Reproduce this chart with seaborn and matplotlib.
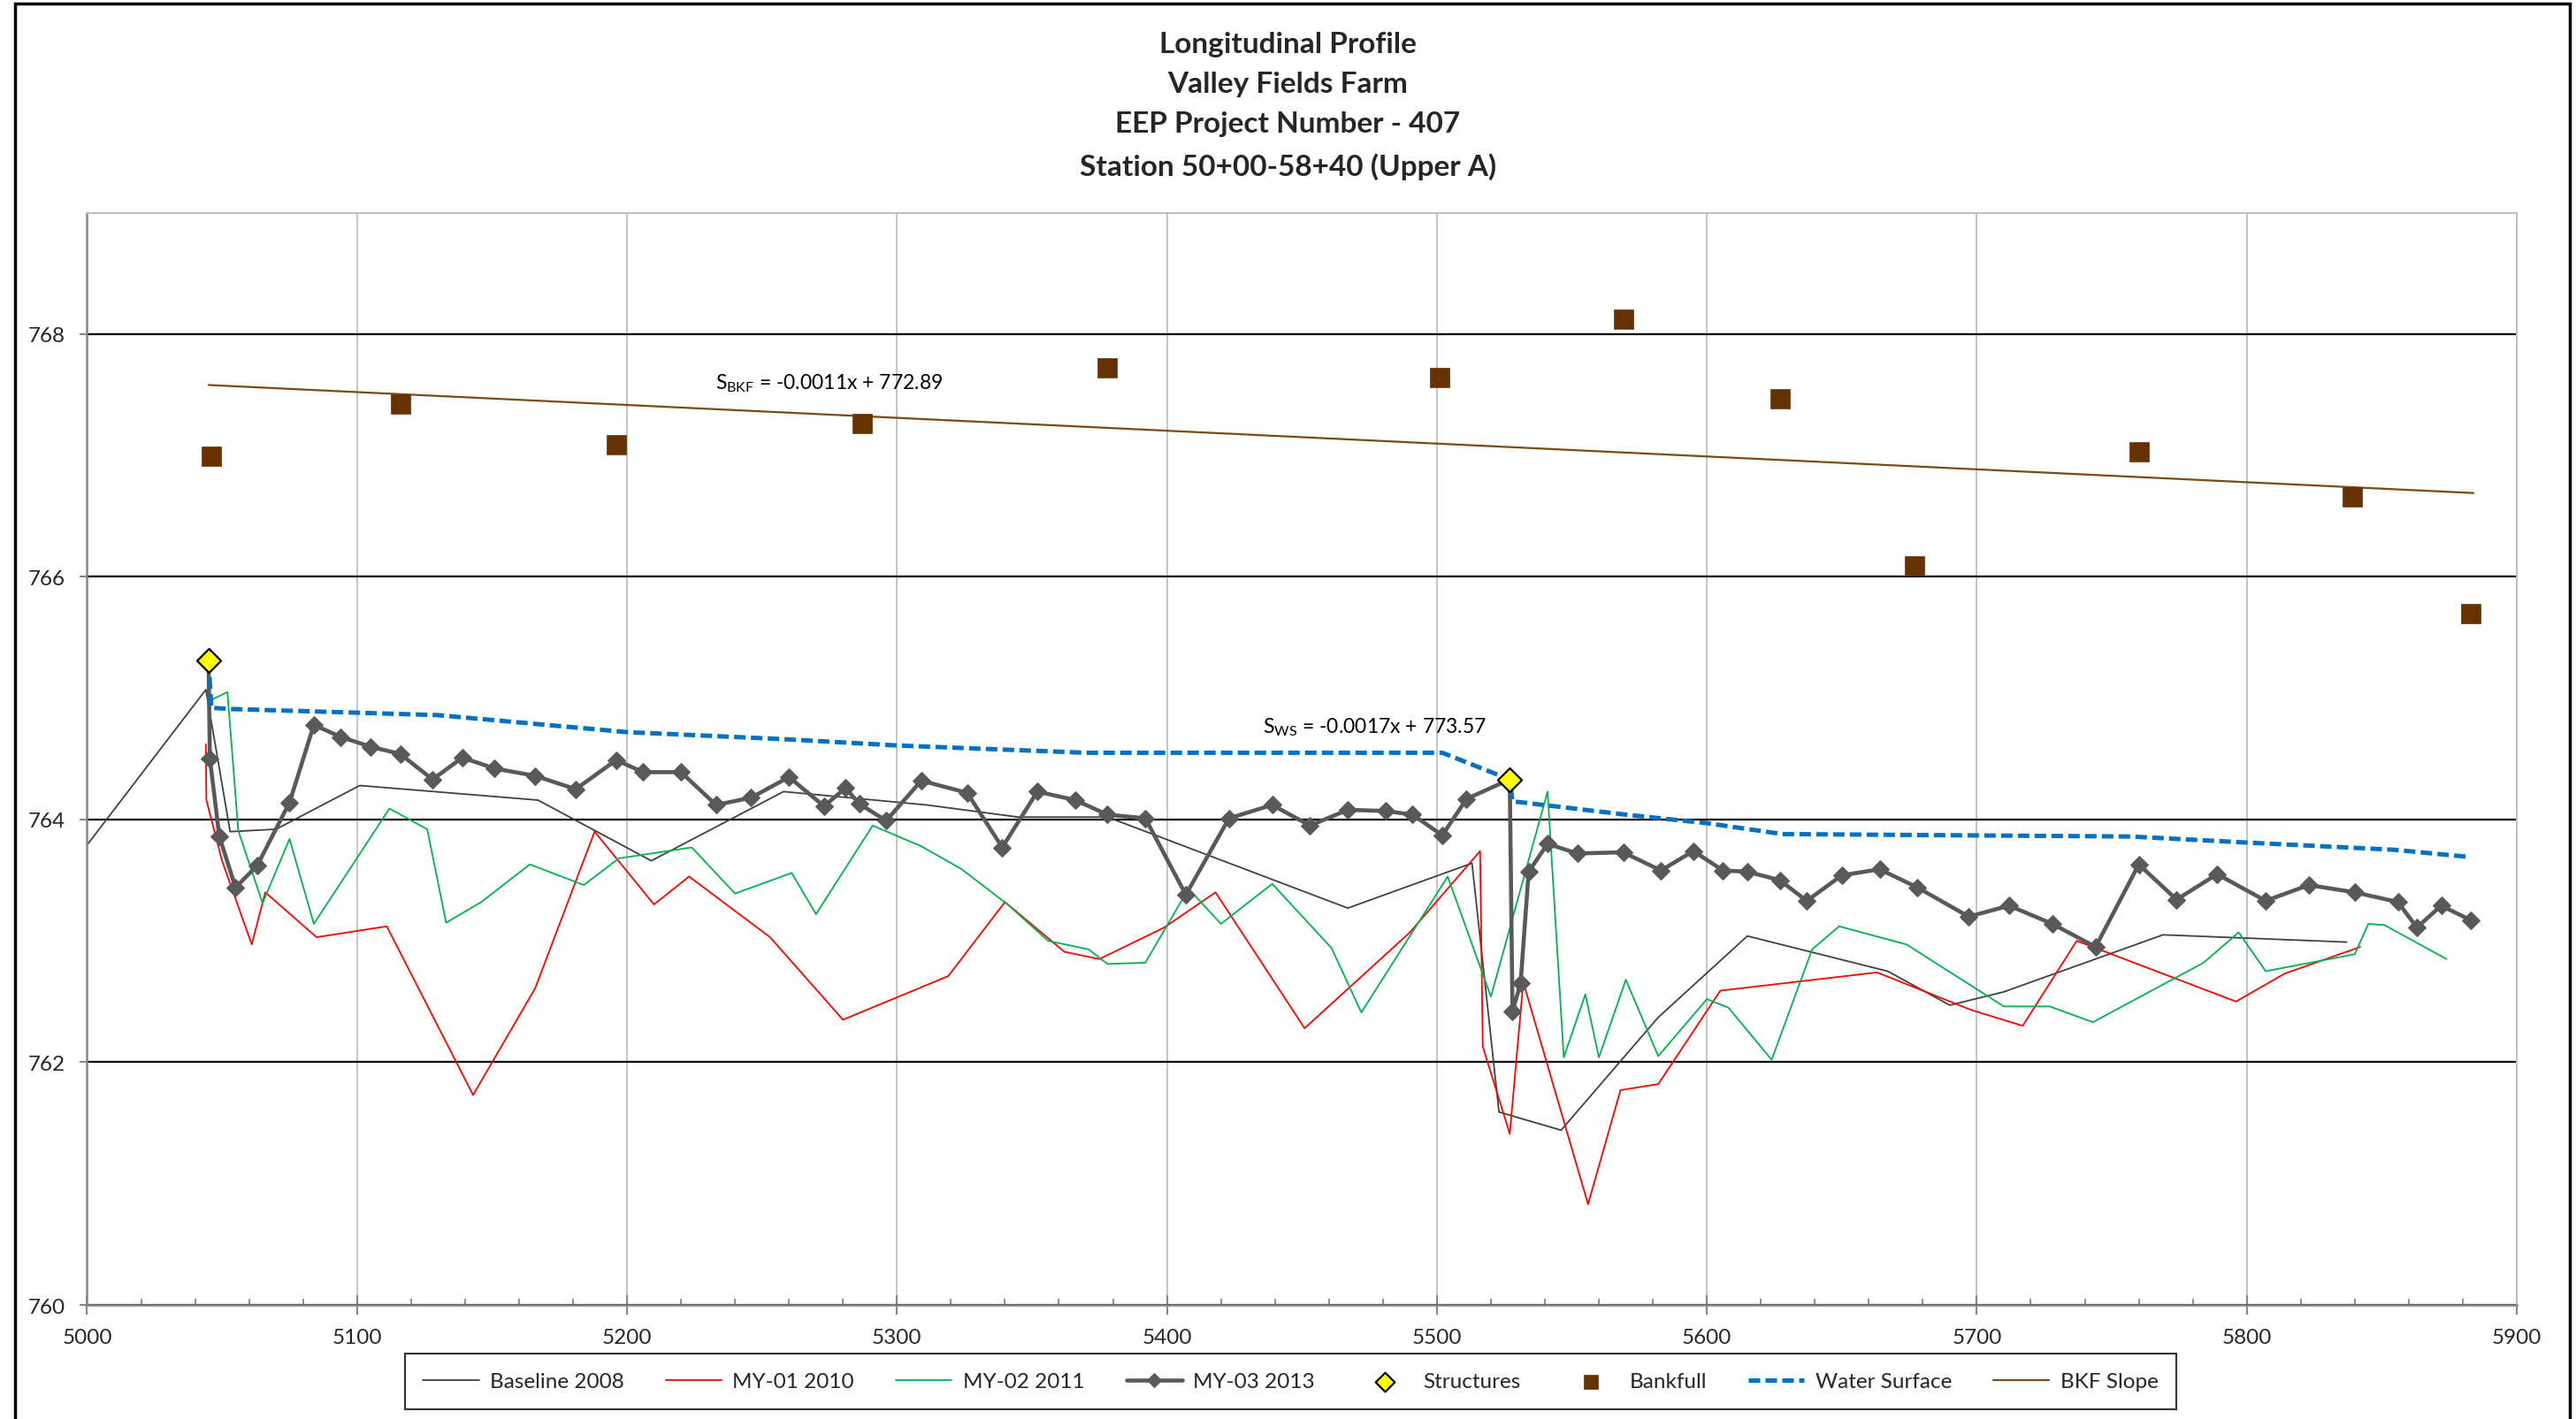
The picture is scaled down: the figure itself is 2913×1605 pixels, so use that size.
import matplotlib
matplotlib.use('Agg')
import matplotlib.pyplot as plt
from matplotlib.patches import Rectangle
from matplotlib.ticker import MultipleLocator
import seaborn as sns

# Baseline 2008 survey
base_x = [5000, 5044, 5053, 5070, 5101, 5167, 5209, 5258, 5311, 5345, 5378, 5467,
          5513, 5523, 5546, 5582, 5615, 5667, 5690, 5710, 5769, 5837]
base_y = [763.79, 765.07, 763.90, 763.92, 764.28, 764.16, 763.66, 764.23, 764.12, 764.02,
          764.02, 763.27, 763.64, 761.59, 761.44, 762.37, 763.04, 762.75, 762.47, 762.58,
          763.05, 762.99]

# MY-01 2010
my1_x = [5044, 5044.2, 5050, 5061, 5066, 5085, 5111, 5143, 5166, 5188, 5210, 5223, 5253,
         5280, 5319, 5340, 5362, 5375, 5399, 5418, 5451, 5490, 5516, 5517, 5527, 5532,
         5556, 5568, 5582, 5605, 5663, 5698, 5717, 5737, 5796, 5814, 5842]
my1_y = [764.62, 764.16, 763.66, 762.97, 763.40, 763.03, 763.12, 761.73, 762.61, 763.90,
         763.30, 763.53, 763.03, 762.35, 762.71, 763.32, 762.91, 762.85, 763.11, 763.40,
         762.28, 763.07, 763.74, 762.13, 761.41, 762.66, 760.83, 761.77, 761.82, 762.59,
         762.74, 762.43, 762.30, 763.00, 762.50, 762.73, 762.95]

# MY-02 2011
my2_x = [5045.5, 5052, 5056, 5065, 5075, 5084, 5112, 5126, 5133, 5146, 5164, 5184, 5197,
         5224, 5240, 5261, 5270, 5291, 5309, 5324, 5341, 5356, 5371, 5378, 5392, 5408,
         5420, 5439, 5461, 5472, 5504, 5520, 5541, 5547, 5555, 5560, 5570, 5582, 5600,
         5608, 5624, 5639, 5649, 5674, 5710, 5727, 5743, 5784, 5797, 5807, 5840, 5845,
         5851, 5874]
my2_y = [764.98, 765.05, 763.91, 763.31, 763.84, 763.14, 764.09, 763.92, 763.15, 763.32,
         763.63, 763.46, 763.68, 763.77, 763.39, 763.56, 763.22, 763.95, 763.78, 763.59,
         763.30, 763.00, 762.93, 762.81, 762.82, 763.43, 763.14, 763.47, 762.94, 762.41,
         763.53, 762.54, 764.23, 762.04, 762.56, 762.04, 762.68, 762.05, 762.52, 762.45,
         762.02, 762.93, 763.12, 762.97, 762.46, 762.46, 762.33, 762.82, 763.07, 762.75,
         762.89, 763.14, 763.13, 762.85]

# MY-03 2013
my3_x = [5045, 5045.5, 5049, 5055, 5063, 5075, 5084, 5094, 5105, 5116, 5128, 5139, 5151,
         5166, 5181, 5196, 5206, 5220, 5233, 5246, 5260, 5273, 5281, 5286, 5296, 5309,
         5326, 5339, 5352, 5366, 5378, 5392, 5407, 5423, 5439, 5453, 5467, 5481, 5491,
         5502, 5511, 5527, 5528, 5531, 5534, 5541, 5552, 5569, 5583, 5595, 5606, 5615,
         5627, 5637, 5650, 5664, 5678, 5697, 5712, 5728, 5744, 5760, 5774, 5789, 5807,
         5823, 5840, 5856, 5863, 5872, 5883]
my3_y = [765.31, 764.50, 763.86, 763.44, 763.62, 764.14, 764.78, 764.68, 764.60, 764.54,
         764.33, 764.51, 764.42, 764.36, 764.25, 764.49, 764.39, 764.39, 764.12, 764.18,
         764.35, 764.11, 764.26, 764.13, 763.99, 764.32, 764.22, 763.77, 764.23, 764.16,
         764.04, 764.01, 763.38, 764.01, 764.12, 763.95, 764.08, 764.07, 764.04, 763.87,
         764.17, 764.33, 762.42, 762.65, 763.57, 763.80, 763.72, 763.73, 763.58, 763.74,
         763.58, 763.57, 763.50, 763.33, 763.54, 763.59, 763.44, 763.20, 763.29, 763.14,
         762.95, 763.63, 763.34, 763.55, 763.33, 763.46, 763.40, 763.32, 763.11, 763.29,
         763.17]

struct_x = [5045, 5527]
struct_y = [765.31, 764.33]

bkf_x = [5046, 5116, 5196, 5287, 5378, 5501, 5569, 5627, 5677, 5760, 5839, 5883]
bkf_y = [766.99, 767.42, 767.09, 767.26, 767.72, 767.64, 768.12, 767.47, 766.09, 767.03,
         766.66, 765.70]

ws_x = [5045, 5046, 5054, 5100, 5130, 5200, 5260, 5300, 5370, 5502, 5527, 5528, 5570,
        5600, 5628, 5757, 5800, 5855, 5883]
ws_y = [765.31, 764.92, 764.91, 764.88, 764.86, 764.72, 764.66, 764.61, 764.55, 764.55,
        764.33, 764.15, 764.04, 763.97, 763.88, 763.86, 763.81, 763.75, 763.69]

slope_x = [5045, 5884]
slope_y = [767.58, 766.69]

title_lines = ['Longitudinal Profile', 'Valley Fields Farm', 'EEP Project Number - 407',
               'Station 50+00-58+40 (Upper A)']
bkf_eq = r'$\mathrm{S}_{\mathrm{BKF}}$ = -0.0011x + 772.89'
ws_eq = r'$\mathrm{S}_{\mathrm{WS}}$ = -0.0017x + 773.57'

sns.set_theme(style='white')
plt.rcParams['font.family'] = ['Lato', 'DejaVu Sans']
plt.rcParams['mathtext.fontset'] = 'custom'
plt.rcParams['mathtext.rm'] = 'Lato'
plt.rcParams['mathtext.it'] = 'Lato:italic'
plt.rcParams['mathtext.bf'] = 'Lato:bold'

fig = plt.figure(figsize=(29.13, 16.06), dpi=100)
fig.patch.set_facecolor('white')
ax = fig.add_axes([0.0338, 0.0803, 0.9432, 0.7693])

kw = dict(ax=ax, sort=False, estimator=None)
sns.lineplot(x=base_x, y=base_y, color='#404040', lw=1.3, label='Baseline 2008', **kw)
sns.lineplot(x=my1_x, y=my1_y, color='#FF0000', lw=1.3, label='MY-01 2010', **kw)
sns.lineplot(x=my2_x, y=my2_y, color='#00B050', lw=1.3, label='MY-02 2011', **kw)
sns.lineplot(x=my3_x, y=my3_y, color='#595959', lw=3.3, marker='D', markersize=10,
             markeredgecolor='#595959', label='MY-03 2013', **kw)
sns.scatterplot(x=struct_x, y=struct_y, ax=ax, marker='D', s=190, color='#FFFF00',
                edgecolor='black', linewidth=1.6, zorder=8, label='Structures')
sns.scatterplot(x=bkf_x, y=bkf_y, ax=ax, marker='s', s=230, color='#663300',
                edgecolor='#663300', linewidth=0.5, zorder=5, label='Bankfull')
sns.lineplot(x=ws_x, y=ws_y, color='#0070C0', lw=3.6, linestyle=(0, (2.6, 1.2)),
             label='Water Surface', **kw)
sns.lineplot(x=slope_x, y=slope_y, color='#7B4A12', lw=1.6, label='BKF Slope', **kw)

ax.text(5275, 767.6, bkf_eq, fontsize=16.5, ha='center', va='center', color='black')
ax.text(5477, 764.77, ws_eq, fontsize=16.5, ha='center', va='center', color='black')

ax.set_xlim(5000, 5900)
ax.set_ylim(760, 769)
ax.xaxis.set_major_locator(MultipleLocator(100))
ax.xaxis.set_minor_locator(MultipleLocator(20))
ax.yaxis.set_major_locator(MultipleLocator(2))
ax.set_xlabel('')
ax.set_ylabel('')

ax.set_axisbelow(True)
ax.yaxis.grid(True, color='black', lw=1.6)
ax.xaxis.grid(True, which='major', color='#BFBFBF', lw=1.3)

ax.tick_params(axis='x', which='major', direction='inout', length=16, width=1.5,
               color='#868686', labelsize=17.5, pad=11, bottom=True)
ax.tick_params(axis='x', which='minor', direction='in', length=5, width=1.3,
               color='#868686', bottom=True)
ax.tick_params(axis='y', which='major', direction='out', length=6, width=1.5,
               color='#868686', labelsize=17.5, pad=12, left=True)

for side in ['left', 'bottom']:
    ax.spines[side].set_color('#868686')
    ax.spines[side].set_linewidth(1.8)
for side in ['top', 'right']:
    ax.spines[side].set_color('#BFBFBF')
    ax.spines[side].set_linewidth(1.5)

handles, labels = ax.get_legend_handles_labels()
leg = ax.legend(handles, labels, loc='center', bbox_to_anchor=(0.501, 0.0264),
                bbox_transform=fig.transFigure, ncol=8, frameon=True, fancybox=False,
                edgecolor='black', fontsize=17.5, handlelength=2.6, handletextpad=0.5,
                columnspacing=1.95, borderpad=0.85, markerscale=0.8)
leg.get_frame().set_linewidth(1.5)

fig.text(0.5, 0.9255, '\n'.join(title_lines), ha='center', va='center', fontsize=24,
         fontweight='bold', linespacing=1.68)

fig.patches.append(Rectangle((17 / 2913, -0.01), (2906 - 17) / 2913, 1.01 - 5 / 1606,
                             transform=fig.transFigure, fill=False, edgecolor='black',
                             lw=2.5, clip_on=False))

fig.savefig('out.png', dpi=100, facecolor='white')
